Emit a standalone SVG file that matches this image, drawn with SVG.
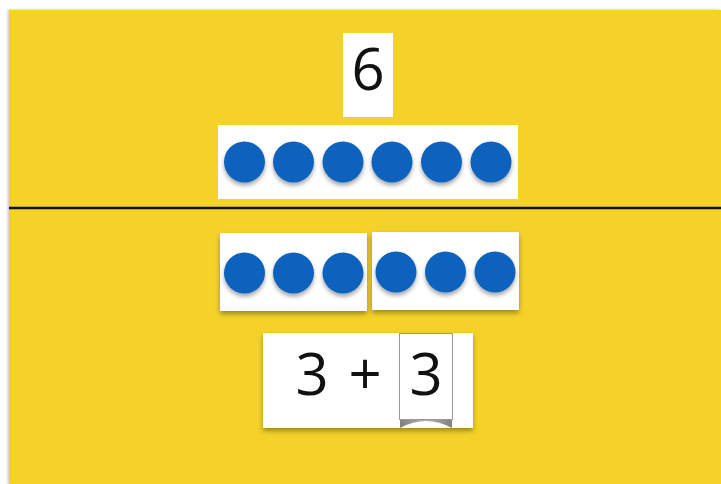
<svg xmlns="http://www.w3.org/2000/svg" width="721" height="484" viewBox="0 0 721 484">
<defs>
<style>
.card{fill:#ffffff}
.dot{fill:#0A62BE;filter:url(#dsh)}
.num{font-family:"Open Sans","Liberation Sans",sans-serif;font-size:58px;fill:#111;text-anchor:middle}
</style>
<filter id="dsh" x="-30%" y="-30%" width="160%" height="170%">
<feDropShadow dx="0" dy="3" stdDeviation="2" flood-color="#000" flood-opacity="0.35"/>
</filter>
<filter id="csh" x="-10%" y="-10%" width="120%" height="130%">
<feDropShadow dx="0" dy="3" stdDeviation="2.5" flood-color="#000" flood-opacity="0.35"/>
</filter>
<filter id="bsh" x="-20%" y="-20%" width="140%" height="140%">
<feDropShadow dx="-1" dy="0" stdDeviation="1.5" flood-color="#000" flood-opacity="0.25"/>
</filter>
<linearGradient id="curl" x1="0" y1="0" x2="1" y2="0">
<stop offset="0" stop-color="#555"/>
<stop offset="0.5" stop-color="#999"/>
<stop offset="1" stop-color="#555"/>
</linearGradient>
</defs>
<rect width="721" height="484" fill="#ffffff"/>
<rect x="9" y="10" width="712" height="474" fill="#F4D22A" filter="url(#bsh)"/>
<g id="connectors">
<line x1="9" y1="208" x2="721" y2="208" stroke="#111" stroke-width="2.5"/>
</g>
<g id="card-six">
<rect class="card" x="343" y="33" width="50" height="84"/>
<text class="num" x="368" y="90">6</text>
</g>
<g id="card-six-dots">
<rect class="card" x="218" y="125" width="300" height="74"/>
<circle class="dot" cx="244.5" cy="162" r="20.5"/>
<circle class="dot" cx="293.5" cy="162" r="20.5"/>
<circle class="dot" cx="343" cy="162" r="20.5"/>
<circle class="dot" cx="392" cy="162" r="20.5"/>
<circle class="dot" cx="441.5" cy="162" r="20.5"/>
<circle class="dot" cx="491" cy="162" r="20.5"/>
</g>
<g id="card-three-left">
<rect class="card" x="220" y="233" width="147" height="78" filter="url(#csh)"/>
<circle class="dot" cx="244.5" cy="273" r="20.5"/>
<circle class="dot" cx="293.5" cy="273" r="20.5"/>
<circle class="dot" cx="343" cy="273" r="20.5"/>
</g>
<g id="card-three-right">
<rect class="card" x="372" y="232" width="147" height="78" filter="url(#csh)"/>
<circle class="dot" cx="396" cy="272" r="20.5"/>
<circle class="dot" cx="445.5" cy="272" r="20.5"/>
<circle class="dot" cx="495" cy="272" r="20.5"/>
</g>
<g id="card-sum">
<rect class="card" x="263" y="333" width="210" height="95" filter="url(#csh)"/>
<text class="num" x="312" y="395">3</text>
<text class="num" x="365" y="395">+</text>
<path d="M400 419 H452 V428 Q426 414 400 428 Z" fill="url(#curl)" opacity="0.75"/>
<rect x="399.5" y="333.5" width="53" height="86" fill="#ffffff" stroke="#999" stroke-width="1"/>
<text class="num" x="426" y="395">3</text>
</g>
</svg>
